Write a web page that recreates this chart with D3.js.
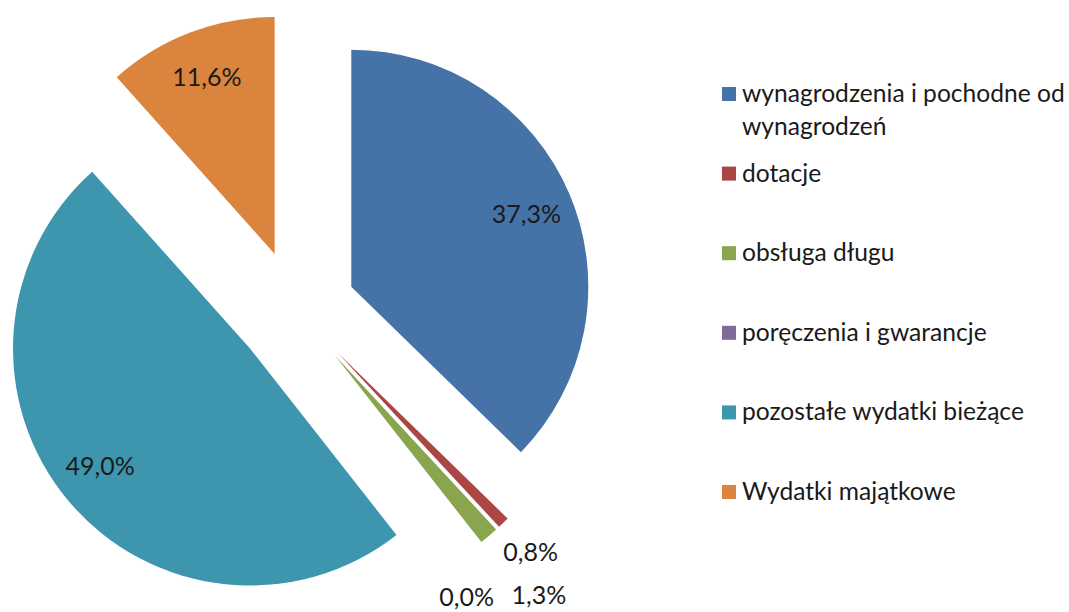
<!DOCTYPE html>
<html>
<head>
<meta charset="utf-8">
<script src="https://cdn.jsdelivr.net/npm/d3@7"></script>
<style>
  body { margin: 0; background: #fff; }
  text { font-family: Lato, "Open Sans", sans-serif; fill: #1a1a1a; }
</style>
</head>
<body>
<div id="chart"></div>
<script>
// categories and shares (percent), clockwise from 12 o'clock
const categories = [
  "wynagrodzenia i pochodne od wynagrodzeń",
  "dotacje",
  "obsługa długu",
  "poręczenia i gwarancje",
  "pozostałe wydatki bieżące",
  "Wydatki majątkowe"
];
const shares = [37.3, 0.8, 1.3, 0.0, 49.0, 11.6];
const labels = ["37,3%", "0,8%", "1,3%", "0,0%", "49,0%", "11,6%"];
const colors = ["#4572A7", "#AA4643", "#89A54E", "#80699B", "#3D96AE", "#DB843D"];

let width = 1069, height = 612;
let cx = 296, cy = 310;     // pie centre before explode
let radius = 237;
let explode = 60;

let svg = d3.select("#chart")
  .append("svg")
  .attr("width", width)
  .attr("height", height);

svg.append("rect")
  .attr("width", width)
  .attr("height", height)
  .attr("fill", "#fff");

let pie = d3.pie().sort(null).value(d => d);
let arcs = pie(shares);

let arc = d3.arc().innerRadius(0).outerRadius(radius);

// unit vector for an angle measured clockwise from 12 o'clock
function dir(a) {
  return [Math.sin(a), -Math.cos(a)];
}

let g = svg.append("g").attr("transform", `translate(${cx},${cy})`);

let slices = g.selectAll("g.slice")
  .data(arcs)
  .enter()
  .append("g")
  .attr("class", "slice")
  .attr("transform", d => {
    let [ux, uy] = dir((d.startAngle + d.endAngle) / 2);
    return `translate(${ux * explode},${uy * explode})`;
  });

slices.append("path")
  .attr("d", arc)
  .attr("fill", (d, i) => colors[i]);

// label distance from the slice tip, and a small angular shift for the crowded ones
let labelDist = [190, 276, 314, 274, 190, 190];
let labelShift = [0, 0, 0, 9, 2, 0];

function labelAngle(d, i) {
  return (d.startAngle + d.endAngle) / 2 + labelShift[i] * Math.PI / 180;
}

slices.append("text")
  .attr("text-anchor", "middle")
  .attr("dominant-baseline", "central")
  .style("font-size", "25px")
  .attr("x", (d, i) => dir(labelAngle(d, i))[0] * labelDist[i])
  .attr("y", (d, i) => dir(labelAngle(d, i))[1] * labelDist[i])
  .text((d, i) => labels[i]);

// legend
let legendX = 722, legendY = 102, legendStep = 79.6;
let maxW = 335;

let legend = svg.append("g");
let items = legend.selectAll("g")
  .data(categories)
  .enter()
  .append("g")
  .attr("transform", (d, i) => `translate(${legendX},${legendY + i * legendStep})`);

items.append("rect")
  .attr("x", 0)
  .attr("y", -15)
  .attr("width", 14)
  .attr("height", 14)
  .attr("fill", (d, i) => colors[i]);

items.each(function(d) {
  let t = d3.select(this).append("text")
    .attr("x", 20)
    .attr("y", 0)
    .style("font-size", "24.6px");
  let words = d.split(" ");
  let line = [];
  let tspan = t.append("tspan").attr("x", 20).attr("dy", 0);
  words.forEach(w => {
    line.push(w);
    tspan.text(line.join(" "));
    if (tspan.node().getComputedTextLength() > maxW && line.length > 1) {
      line.pop();
      tspan.text(line.join(" "));
      line = [w];
      tspan = t.append("tspan").attr("x", 20).attr("dy", 33).text(w);
    }
  });
});
</script>
</body>
</html>
